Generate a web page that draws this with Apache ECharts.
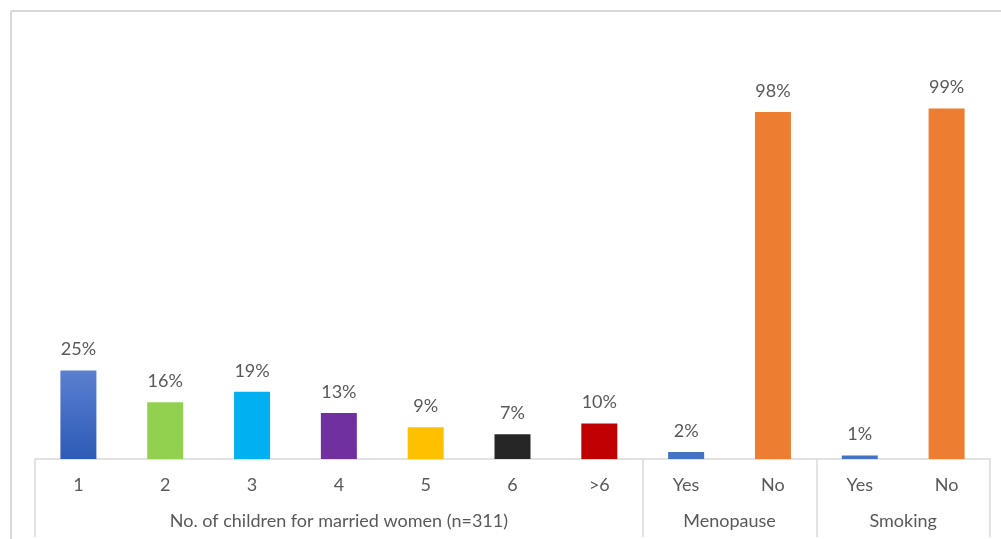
<!DOCTYPE html>
<html>
<head>
<meta charset="utf-8">
<script src="https://cdn.jsdelivr.net/npm/echarts@6/dist/echarts.min.js"></script>
<style>
  html, body { margin: 0; padding: 0; background: #fff; }
  #chart { width: 1001px; height: 539px; }
</style>
</head>
<body>
<div id="chart"></div>
<script>
// Categories along the x axis and the share (%) for each
const categories = ['1', '2', '3', '4', '5', '6', '>6', 'Yes', 'No', 'Yes', 'No'];
const values = [25, 16, 19, 13, 9, 7, 10, 2, 98, 1, 99];

// Grouping of the categories into the second-level axis labels
const groupNames = ['No. of children for married women (n=311)', 'Menopause', 'Smoking'];
const groupSpans = [7, 2, 2];

// Bar fills
const barColors = [
  { type: 'linear', x: 0, y: 0, x2: 0, y2: 1,
    colorStops: [{ offset: 0, color: '#5a7fd0' }, { offset: 1, color: '#2d5bb6' }] },
  '#92d050', '#00b0f0', '#7030a0', '#ffc000', '#262626', '#c00000',
  '#4472c4', '#ed7d31', '#4472c4', '#ed7d31'
];

// Group boundaries and centres in category units
const boundaries = [0];
groupSpans.forEach(s => boundaries.push(boundaries[boundaries.length - 1] + s));
const centers = groupSpans.map((s, i) => boundaries[i] + s / 2);

const textColor = '#595959';
const lineColor = '#d9d9d9';
const font = 'Lato, "Open Sans", sans-serif';
const fontSize = 18;

const chart = echarts.init(document.getElementById('chart'));
chart.setOption({
  animation: false,
  backgroundColor: '#fff',
  textStyle: { fontFamily: font },
  grid: { left: 35, right: 11, top: 105, bottom: 80, containLabel: false },
  xAxis: [
    {
      type: 'category',
      data: categories,
      axisLine: { show: true, lineStyle: { color: lineColor, width: 1.5 } },
      axisTick: { show: false },
      axisLabel: { color: textColor, fontSize: fontSize, margin: 17, fontFamily: font }
    },
    {
      type: 'value',
      gridIndex: 0,
      position: 'bottom',
      min: 0,
      max: boundaries[boundaries.length - 1],
      axisLine: { show: false },
      splitLine: { show: false },
      axisTick: {
        show: true,
        customValues: boundaries,
        length: 78,
        lineStyle: { color: lineColor, width: 1.5 }
      },
      axisLabel: {
        show: true,
        customValues: centers,
        margin: 53,
        color: textColor,
        fontSize: fontSize,
        fontFamily: font,
        formatter: v => {
          const i = centers.findIndex(c => Math.abs(c - v) < 1e-6);
          return i >= 0 ? groupNames[i] : '';
        }
      }
    }
  ],
  yAxis: {
    type: 'value',
    min: 0,
    max: 100,
    show: false
  },
  graphic: [
    { type: 'line', shape: { x1: 11, y1: 11, x2: 1001, y2: 11 },
      style: { stroke: lineColor, lineWidth: 2 }, silent: true },
    { type: 'line', shape: { x1: 11, y1: 11, x2: 11, y2: 539 },
      style: { stroke: lineColor, lineWidth: 2 }, silent: true }
  ],
  series: [{
    type: 'bar',
    xAxisIndex: 0,
    barWidth: 36,
    data: values.map((v, i) => ({ value: v, itemStyle: { color: barColors[i] } })),
    label: {
      show: true,
      position: 'top',
      distance: 12,
      color: textColor,
      fontSize: fontSize,
      fontFamily: font,
      formatter: '{c}%'
    }
  }]
});
</script>
</body>
</html>
